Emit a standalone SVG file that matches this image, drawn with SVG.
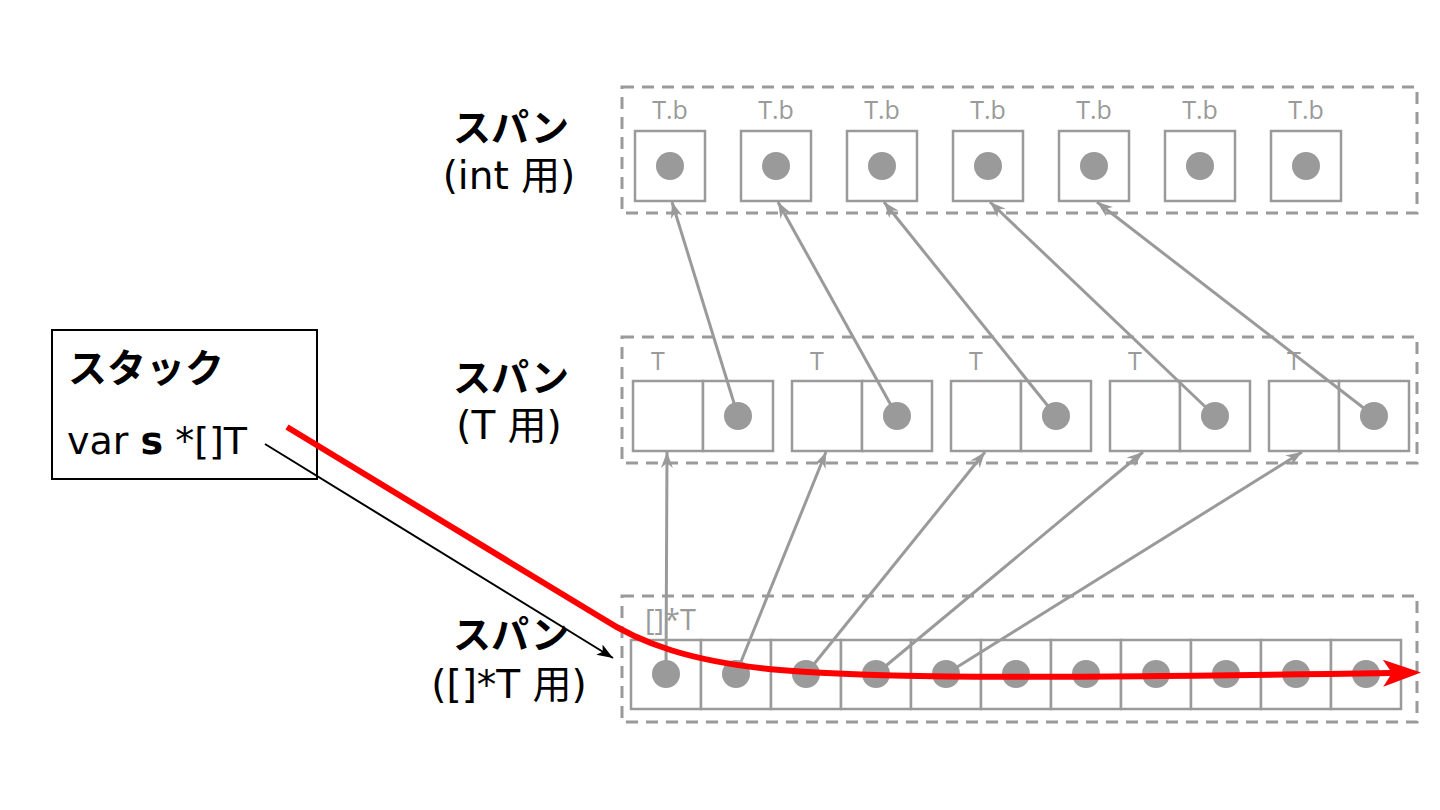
<svg xmlns="http://www.w3.org/2000/svg" width="1440" height="810" viewBox="0 0 1440 810">
<defs>
<style>
.dash{fill:none;stroke:#9a9a9a;stroke-width:3;stroke-dasharray:12 8}
.cell{fill:#fff;stroke:#9a9a9a;stroke-width:2.5}
.dot{fill:#9a9a9a}
.lbl{font-family:"Open Sans","DejaVu Sans",sans-serif;fill:#9a9a9a;font-size:25px}
.conn{fill:none;stroke:#9a9a9a;stroke-width:3;marker-end:url(#ga)}
.ttl{font-family:"Noto Sans CJK JP",sans-serif;font-weight:bold;font-size:38px;fill:#000;text-anchor:middle}
.sub{font-family:"DejaVu Sans","Noto Sans CJK JP",sans-serif;font-size:39px;fill:#000;text-anchor:middle}
</style>
<marker id="ga" viewBox="0 0 16 12" refX="16" refY="6" markerWidth="16" markerHeight="12" orient="auto" markerUnits="userSpaceOnUse"><path d="M0,0 L16,6 L0,12 L5,6 z" fill="#9a9a9a"/></marker>
<marker id="ba" viewBox="0 0 16 12" refX="16" refY="6" markerWidth="16" markerHeight="12" orient="auto" markerUnits="userSpaceOnUse"><path d="M0,0 L16,6 L0,12 L4,6 z" fill="#000"/></marker>
<marker id="ra" viewBox="0 0 38 27" refX="9" refY="13.5" markerWidth="38" markerHeight="27" orient="auto" markerUnits="userSpaceOnUse"><path d="M0,0 L38,13.5 L0,27 L9,13.5 z" fill="#ff0000"/></marker>
</defs>

<g id="span-int">
<rect class="dash" x="622" y="87" width="795" height="126"/>
<text class="ttl" x="511" y="141">スパン</text>
<text class="sub" x="509" y="189">(int 用)</text>
<g class="lbl" text-anchor="middle">
<text x="670" y="119">T.b</text><text x="776" y="119">T.b</text><text x="882" y="119">T.b</text><text x="988" y="119">T.b</text><text x="1094" y="119">T.b</text><text x="1200" y="119">T.b</text><text x="1306" y="119">T.b</text>
</g>
<rect class="cell" x="635" y="131" width="70" height="70"/><circle class="dot" cx="670" cy="166" r="14"/>
<rect class="cell" x="741" y="131" width="70" height="70"/><circle class="dot" cx="776" cy="166" r="14"/>
<rect class="cell" x="847" y="131" width="70" height="70"/><circle class="dot" cx="882" cy="166" r="14"/>
<rect class="cell" x="953" y="131" width="70" height="70"/><circle class="dot" cx="988" cy="166" r="14"/>
<rect class="cell" x="1059" y="131" width="70" height="70"/><circle class="dot" cx="1094" cy="166" r="14"/>
<rect class="cell" x="1165" y="131" width="70" height="70"/><circle class="dot" cx="1200" cy="166" r="14"/>
<rect class="cell" x="1271" y="131" width="70" height="70"/><circle class="dot" cx="1306" cy="166" r="14"/>
</g>

<g id="span-T">
<rect class="dash" x="622" y="337" width="795" height="126"/>
<text class="ttl" x="511" y="391">スパン</text>
<text class="sub" x="509" y="439">(T 用)</text>
<g class="lbl" text-anchor="middle">
<text x="658" y="370">T</text><text x="817" y="370">T</text><text x="976" y="370">T</text><text x="1135" y="370">T</text><text x="1294" y="370">T</text>
</g>
<rect class="cell" x="633" y="381" width="70" height="70"/><rect class="cell" x="703" y="381" width="70" height="70"/><circle class="dot" cx="738" cy="416" r="14"/>
<rect class="cell" x="792" y="381" width="70" height="70"/><rect class="cell" x="862" y="381" width="70" height="70"/><circle class="dot" cx="897" cy="416" r="14"/>
<rect class="cell" x="951" y="381" width="70" height="70"/><rect class="cell" x="1021" y="381" width="70" height="70"/><circle class="dot" cx="1056" cy="416" r="14"/>
<rect class="cell" x="1110" y="381" width="70" height="70"/><rect class="cell" x="1180" y="381" width="70" height="70"/><circle class="dot" cx="1215" cy="416" r="14"/>
<rect class="cell" x="1269" y="381" width="70" height="70"/><rect class="cell" x="1339" y="381" width="70" height="70"/><circle class="dot" cx="1374" cy="416" r="14"/>
</g>

<g id="span-ptr">
<rect class="dash" x="622" y="596" width="795" height="126"/>
<text class="ttl" x="511" y="648">スパン</text>
<text class="sub" x="509" y="698">([]*T 用)</text>
<text class="lbl" x="645" y="630" style="font-size:29px">[]*T</text>
<rect class="cell" x="631" y="640" width="70" height="69"/><circle class="dot" cx="666" cy="674" r="14"/>
<rect class="cell" x="701" y="640" width="70" height="69"/><circle class="dot" cx="736" cy="674" r="14"/>
<rect class="cell" x="771" y="640" width="70" height="69"/><circle class="dot" cx="806" cy="674" r="14"/>
<rect class="cell" x="841" y="640" width="70" height="69"/><circle class="dot" cx="876" cy="674" r="14"/>
<rect class="cell" x="911" y="640" width="70" height="69"/><circle class="dot" cx="946" cy="674" r="14"/>
<rect class="cell" x="981" y="640" width="70" height="69"/><circle class="dot" cx="1016" cy="674" r="14"/>
<rect class="cell" x="1051" y="640" width="70" height="69"/><circle class="dot" cx="1086" cy="674" r="14"/>
<rect class="cell" x="1121" y="640" width="70" height="69"/><circle class="dot" cx="1156" cy="674" r="14"/>
<rect class="cell" x="1191" y="640" width="70" height="69"/><circle class="dot" cx="1226" cy="674" r="14"/>
<rect class="cell" x="1261" y="640" width="70" height="69"/><circle class="dot" cx="1296" cy="674" r="14"/>
<rect class="cell" x="1331" y="640" width="70" height="69"/><circle class="dot" cx="1366" cy="674" r="14"/>
</g>

<g id="stack">
<rect x="52" y="330" width="265" height="149" fill="#fff" stroke="#000" stroke-width="2"/>
<text x="68" y="382" font-family="Noto Sans CJK JP,sans-serif" font-weight="bold" font-size="39">スタック</text>
<text x="67" y="454" font-family="DejaVu Sans,sans-serif" font-size="38">var <tspan font-weight="bold">s</tspan> *[]T</text>
</g>

<g id="connectors">
<path class="conn" d="M738,416 L672,202"/>
<path class="conn" d="M897,416 L778,202"/>
<path class="conn" d="M1056,416 L884,202"/>
<path class="conn" d="M1215,416 L990,202"/>
<path class="conn" d="M1374,416 L1097,202"/>
<path class="conn" d="M666,674 L667,452"/>
<path class="conn" d="M736,674 L826,452"/>
<path class="conn" d="M806,674 L985,452"/>
<path class="conn" d="M876,674 L1143,452"/>
<path class="conn" d="M946,674 L1302,452"/>
<path d="M265,444 L613,658" fill="none" stroke="#000" stroke-width="2" marker-end="url(#ba)"/>
<path d="M287,427 L600,617 C640,643 690,662 780,670 C880,678 1000,679 1392,673" fill="none" stroke="#ff0000" stroke-width="6" marker-end="url(#ra)"/>
</g>
</svg>
